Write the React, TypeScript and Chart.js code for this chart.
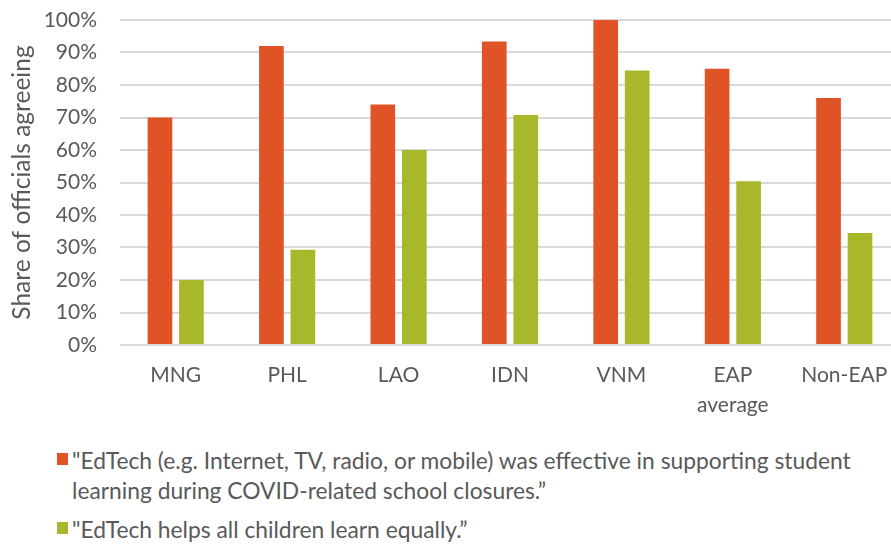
import React, { useEffect, useRef } from "react";
import { Chart, registerables } from "chart.js";

Chart.register(...registerables);

const categories: (string | string[])[] = ["MNG", "PHL", "LAO", "IDN", "VNM", ["EAP", "average"], "Non-EAP"];
const effectiveValues = [70, 92, 74, 93.4, 100, 85, 76];
const equalValues = [20, 29.3, 60, 70.8, 84.5, 50.4, 34.5];
const yTicks = [0, 10, 20, 30, 40, 50, 60, 70, 80, 90, 100];

const effectiveLabel =
  "\"EdTech (e.g. Internet, TV, radio, or mobile) was effective in supporting student learning during COVID-related school closures.\u201D";
const equalLabel = "\"EdTech helps all children learn equally.\u201D";
const yTitle = "Share of officials agreeing";

const ORANGE = "#E05326";
const GREEN = "#A8B82A";
const TEXT = "#595959";
const GRID = "#D9D9D9";
const FONT = "Lato, 'Open Sans', sans-serif";

export default function App() {
  const canvasRef = useRef<HTMLCanvasElement | null>(null);

  useEffect(() => {
    document.body.style.margin = "0";
    const canvas = canvasRef.current;
    if (!canvas) return;
    const chart = new Chart(canvas, {
      type: "bar",
      data: {
        labels: categories,
        datasets: [
          {
            label: effectiveLabel,
            data: effectiveValues,
            backgroundColor: ORANGE,
            barPercentage: 0.784,
            categoryPercentage: 0.565,
          },
          {
            label: equalLabel,
            data: equalValues,
            backgroundColor: GREEN,
            barPercentage: 0.784,
            categoryPercentage: 0.565,
          },
        ],
      },
      options: {
        animation: false,
        responsive: false,
        maintainAspectRatio: false,
        layout: { padding: { top: 20, right: 0, bottom: 0, left: 0 } },
        plugins: {
          legend: { display: false },
          tooltip: { enabled: false },
        },
        scales: {
          x: {
            grid: { display: false, drawTicks: false },
            border: { display: false },
            ticks: {
              color: TEXT,
              font: { family: FONT, size: 21, lineHeight: 1.45 },
              padding: 15,
              maxRotation: 0,
              autoSkip: false,
            },
            afterFit: (scale: any) => {
              scale.height = 85;
              scale.paddingLeft = 0;
              scale.paddingRight = 0;
            },
          },
          y: {
            min: 0,
            max: 100,
            afterBuildTicks: (scale: any) => {
              scale.ticks = yTicks.map((v) => ({ value: v }));
            },
            grid: { color: GRID, lineWidth: 2, drawTicks: false },
            border: { display: false },
            ticks: {
              color: TEXT,
              font: { family: FONT, size: 21 },
              padding: 23,
              callback: (v: any) => `${v}%`,
            },
            title: {
              display: true,
              text: yTitle,
              color: TEXT,
              font: { family: FONT, size: 24.5 },
              padding: { top: 7, bottom: 0 },
            },
            afterFit: (scale: any) => {
              scale.width = 120;
              scale.paddingTop = 0;
              scale.paddingBottom = 0;
            },
          },
        },
      },
    });
    return () => chart.destroy();
  }, []);

  const itemStyle: React.CSSProperties = {
    position: "absolute",
    left: 57,
    display: "flex",
    alignItems: "flex-start",
    fontFamily: FONT,
    fontSize: 22.8,
    lineHeight: "30px",
    color: TEXT,
  };
  const marker = (color: string): React.CSSProperties => ({
    width: 11,
    height: 12,
    background: color,
    flex: "0 0 auto",
    marginTop: 8,
    marginRight: 4,
  });

  return (
    <div style={{ position: "relative", width: 891, height: 544, background: "#fff", overflow: "hidden" }}>
      <canvas ref={canvasRef} width={900} height={430} style={{ position: "absolute", left: 0, top: 0 }} />
      <div style={{ ...itemStyle, top: 445, width: 815 }}>
        <span style={marker(ORANGE)} />
        <span>{effectiveLabel}</span>
      </div>
      <div style={{ ...itemStyle, top: 514 }}>
        <span style={marker(GREEN)} />
        <span>{equalLabel}</span>
      </div>
    </div>
  );
}
